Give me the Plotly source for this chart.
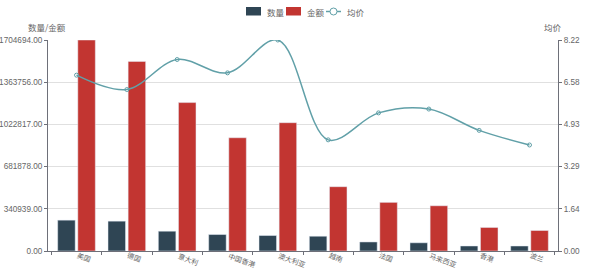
import math
import plotly.graph_objects as go

categories = ["美国", "德国", "意大利", "中国香港", "澳大利亚", "越南", "法国", "马来西亚", "香港", "波兰"]
quantity = [249200, 241100, 159900, 133100, 125000, 119300, 73000, 66300, 40500, 40400]
amount = [1704694, 1531800, 1199000, 914900, 1036600, 519500, 392900, 365300, 190000, 165600]
avg_price = [6.85, 6.29, 7.46, 6.94, 8.22, 4.33, 5.38, 5.53, 4.70, 4.13]

left_ticks = [0, 340939, 681878, 1022817, 1363756, 1704694]
right_ticks = [0, 1.64, 3.29, 4.93, 6.58, 8.22]

FONT = "Noto Sans CJK SC"
NUMFONT = "Liberation Sans"
GRAY = "#666666"
AXIS = "#6e7079"
C_Q, C_A, C_P = "#2f4554", "#c23531", "#61a0a8"

W, H = 600, 269
ML, MR, MT, MB = 48, 42, 40, 18
PW, PH = W - ML - MR, H - MT - MB


def px(x):
    return (x - ML) / PW


def py(y):
    return (H - MB - y) / PH


fig = go.Figure()
fig.add_trace(go.Bar(x=categories, y=quantity, name="数量", marker_color=C_Q, showlegend=False))
fig.add_trace(go.Bar(x=categories, y=amount, name="金额", marker_color=C_A, showlegend=False))
fig.add_trace(go.Scatter(
    x=categories, y=avg_price, name="均价", yaxis="y2", mode="lines+markers",
    line=dict(color=C_P, width=1.5, shape="spline", smoothing=1.0),
    marker=dict(symbol="circle-open", size=4, color=C_P), showlegend=False,
))

fig.update_layout(
    width=W, height=H,
    margin=dict(l=ML, r=MR, t=MT, b=MB),
    paper_bgcolor="white", plot_bgcolor="white",
    font=dict(family=FONT, size=9, color=GRAY),
    barmode="group", bargap=0.2, bargroupgap=0.13,
    showlegend=False,
    xaxis=dict(
        type="category", tickson="boundaries", ticks="outside", ticklen=3,
        tickcolor=AXIS, showline=True, linecolor=AXIS, linewidth=1,
        showticklabels=False, showgrid=False, automargin=False,
    ),
    yaxis=dict(
        range=[0, 1704694], tickvals=left_ticks,
        ticktext=[f"{v:.2f}" for v in left_ticks],
        showline=True, linecolor=AXIS, ticks="outside", ticklen=3, tickcolor=AXIS,
        gridcolor="#e0e0e0", tickfont=dict(family=NUMFONT, size=8.2, color=GRAY),
        zeroline=False, automargin=False,
    ),
    yaxis2=dict(
        range=[0, 8.22], tickvals=right_ticks,
        ticktext=[f"{v:.2f}" for v in right_ticks],
        overlaying="y", side="right",
        showline=True, linecolor=AXIS, ticks="outside", ticklen=3, tickcolor=AXIS,
        showgrid=False, tickfont=dict(family=NUMFONT, size=8.2, color=GRAY),
        zeroline=False, automargin=False,
    ),
)

# rotated category labels placed just below the x axis
ang = math.radians(20)
for cat in categories:
    L = len(cat) * 7.0
    fig.add_annotation(text=cat, xref="x", x=cat, yref="paper",
                       y=py(255 + L / 2 * math.sin(ang)),
                       xshift=1 + L / 2 * math.cos(ang),
                       xanchor="center", yanchor="middle", textangle=20,
                       showarrow=False, font=dict(size=7, color=GRAY))

fig.add_annotation(text="数量/金额", xref="paper", yref="paper", x=px(47), y=py(27),
                   xanchor="center", yanchor="middle", showarrow=False,
                   font=dict(size=8.5, color=GRAY))
fig.add_annotation(text="均价", xref="paper", yref="paper", x=px(553), y=py(27),
                   xanchor="center", yanchor="middle", showarrow=False,
                   font=dict(size=8.5, color=GRAY))

# custom legend (top center)
legend_items = [("数量", C_Q, "rect", 246), ("金额", C_A, "rect", 286), ("均价", C_P, "line", 326)]
for label, color, kind, x0 in legend_items:
    if kind == "rect":
        fig.add_shape(type="rect", xref="paper", yref="paper",
                      x0=px(x0), x1=px(x0 + 15), y0=py(15.5), y1=py(7),
                      fillcolor=color, line=dict(width=0), layer="above")
    else:
        fig.add_shape(type="line", xref="paper", yref="paper",
                      x0=px(x0), x1=px(x0 + 15), y0=py(11.5), y1=py(11.5),
                      line=dict(color=color, width=1.5))
        fig.add_shape(type="circle", xref="paper", yref="paper",
                      x0=px(x0 + 4), x1=px(x0 + 11), y0=py(15), y1=py(8),
                      fillcolor="white", line=dict(color=color, width=1))
    fig.add_annotation(text=label, xref="paper", yref="paper", x=px(x0 + 19), y=py(11.5),
                       xanchor="left", yanchor="middle", showarrow=False,
                       font=dict(size=8.5, color=GRAY))

fig.write_html("out.html")
